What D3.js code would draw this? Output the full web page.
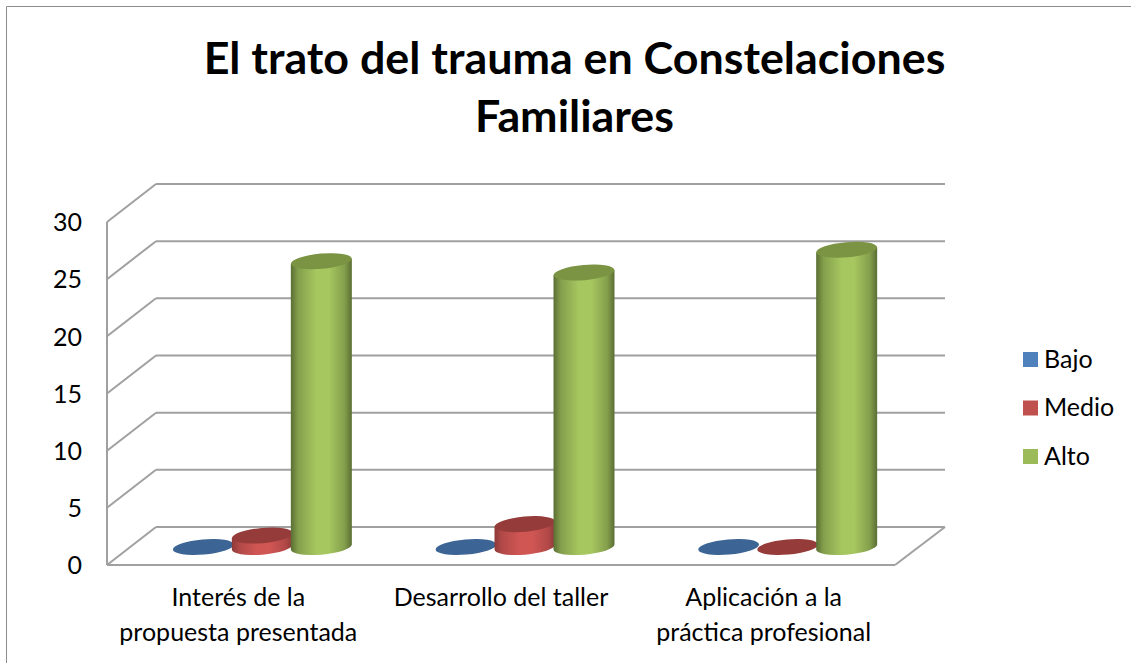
<!DOCTYPE html>
<html><head><meta charset="utf-8">
<script src="https://cdn.jsdelivr.net/npm/d3@7"></script>
<style>html,body{margin:0;padding:0;background:#fff}svg{display:block}text{font-family:Lato,"Open Sans",sans-serif;fill:#000}</style>
</head><body><svg id="c" width="1131" height="663"></svg>
<script>
const titleLines = ["El trato del trauma en Constelaciones","Familiares"];
const categories = ["Interés de la|propuesta presentada","Desarrollo del taller","Aplicación a la|práctica profesional"];
const seriesNames = ["Bajo","Medio","Alto"];
const bajo = [0,0,0];
const medio = [1,2,0];
const alto = [25,24,26];
const seriesValues = [bajo,medio,alto];
const yTicks = [0,5,10,15,20,25,30];
const colors = ["#4f81bd","#c0504d","#9bbb59"];
const sideDark = ["#2f4f76","#8c3a38","#5a6e33"];
const sideLight = ["#4f81bd","#d05654","#a6c760"];
const topColors = ["#3c6494","#953b39","#7b9443"];

const svg = d3.select("#c");
const gridColor = "#a0a0a0";

// frame
svg.append("path").attr("d","M6.5,663V6.5H1131").attr("fill","none").attr("stroke","#8c8c8c").attr("stroke-width",1);

// title
svg.append("g").selectAll("text").data(titleLines).join("text")
  .attr("x",574.5).attr("y",(d,i)=>74+i*58).attr("text-anchor","middle")
  .attr("font-size",44.8).attr("font-weight",700).text(d=>d);

// scales
const yFront = d3.scaleLinear().domain([0,30]).range([565,222]);
const yBack = d3.scaleLinear().domain([0,30]).range([527,184]);
const yBar = d3.scaleLinear().domain([0,30]).range([547,204]);
const xFront = d3.scaleBand().domain(categories).range([107,895]);
const xGroup = d3.scaleBand().domain(categories).range([130.5,918.5]);
const xSeries = d3.scalePoint().domain(seriesNames).range([-58.5,59.5]);
const depth = 49, backRight = 945;

// walls
const grid = svg.append("g").attr("fill","none").attr("stroke",gridColor).attr("stroke-width",2);
yTicks.forEach(t=>{
  grid.append("line").attr("x1",107).attr("y1",yFront(t)).attr("x2",107+depth).attr("y2",yBack(t));
  grid.append("line").attr("x1",107+depth).attr("y1",yBack(t)).attr("x2",backRight).attr("y2",yBack(t));
});
grid.append("line").attr("x1",107).attr("y1",yFront(0)).attr("x2",107).attr("y2",yFront(30));
grid.append("line").attr("x1",107).attr("y1",yFront(0)).attr("x2",895).attr("y2",yFront(0));
grid.append("line").attr("x1",895).attr("y1",yFront(0)).attr("x2",backRight).attr("y2",yBack(0));

// y axis labels
const axis = svg.append("g").attr("transform","translate(87,0)")
  .call(d3.axisLeft(yFront).tickValues(yTicks).tickSize(0).tickPadding(5));
axis.select(".domain").remove();
axis.selectAll("text").attr("font-size",25).attr("font-family",'Lato,"Open Sans",sans-serif').attr("fill","#000").attr("dy","0.35em");

// category labels
const cat = svg.append("g").selectAll("g").data(categories).join("g");
cat.selectAll("text").data(d=>d.split("|").map(s=>({c:d,s}))).join("text")
  .attr("x",d=>xFront(d.c)+xFront.bandwidth()/2).attr("y",(d,i)=>606+i*35)
  .attr("text-anchor","middle").attr("font-size",25).text(d=>d.s);

// gradients
const defs = svg.append("defs");
seriesNames.forEach((n,i)=>{
  const g = defs.append("linearGradient").attr("id","g"+i);
  [[0,sideDark[i]],[0.12,d3.interpolateRgb(sideDark[i],sideLight[i])(0.55)],[0.42,sideLight[i]],[0.62,sideLight[i]],[0.88,d3.interpolateRgb(sideDark[i],sideLight[i])(0.55)],[1,sideDark[i]]]
    .forEach(([o,c])=>g.append("stop").attr("offset",o).attr("stop-color",c));
});

// cylinders
const rx = 30.5, ry = 7.6, tilt = -5, dy = 2.5;
seriesNames.forEach((n,si)=>{
  categories.forEach((c,ci)=>{
    const v = seriesValues[si][ci];
    const cx = xGroup(c)+xGroup.bandwidth()/2+xSeries(n);
    const yb = yBar(0), yt = yBar(v);
    if (v>0){
      svg.append("path")
        .attr("d",`M${cx-rx},${yb+dy}A${rx},${ry} ${tilt} 0 0 ${cx+rx},${yb-dy}L${cx+rx},${yt-dy}L${cx-rx},${yt+dy}Z`)
        .attr("fill",`url(#g${si})`);
    }
    svg.append("ellipse").attr("cx",cx).attr("cy",yt).attr("rx",rx).attr("ry",ry)
      .attr("transform",`rotate(${tilt} ${cx} ${yt})`).attr("fill",topColors[si]);
  });
});

// legend
const legendY = d3.scalePoint().domain(seriesNames).range([359.5,456.5]);
const leg = svg.append("g").selectAll("g").data(seriesNames).join("g");
leg.append("rect").attr("x",1023).attr("y",d=>legendY(d)-7.5).attr("width",15).attr("height",15).attr("fill",(d,i)=>colors[i]);
leg.append("text").attr("x",1044).attr("y",d=>legendY(d)+8).attr("font-size",25).text(d=>d);
</script></body></html>
